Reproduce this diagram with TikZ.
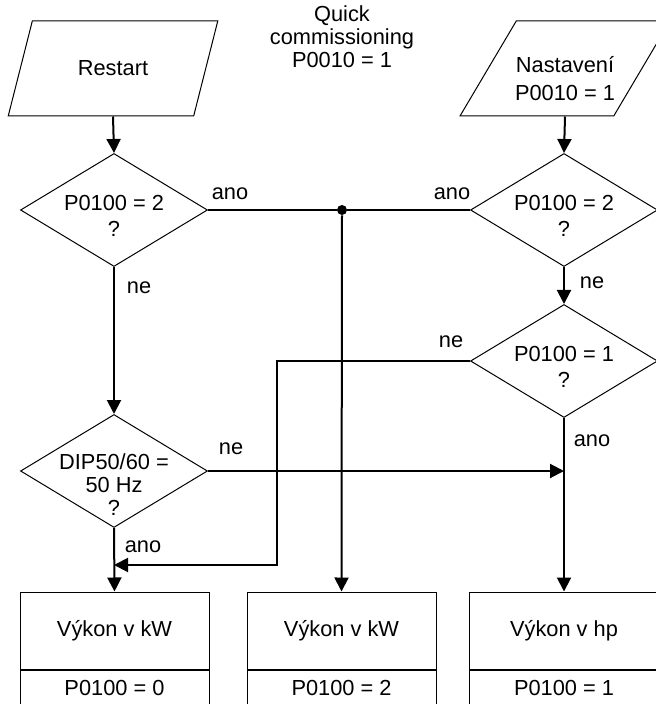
\documentclass[tikz,border=0pt]{standalone}
\usepackage{fontspec}
\setmainfont{Liberation Sans}
\usetikzlibrary{shapes.geometric,arrows.meta,positioning}

\tikzset{
  io/.style={trapezium, trapezium left angle=60, trapezium right angle=120,
    trapezium stretches=true, draw, line width=0.5pt,
    minimum width=105pt, minimum height=47.5pt, inner sep=1pt, align=center},
  decision/.style={diamond, draw, line width=0.5pt,
    minimum width=93.5pt, minimum height=56.5pt, inner sep=0pt},
  dtext/.style={align=center, inner sep=0pt},
  result/.style={rectangle, draw, line width=0.5pt,
    minimum width=94.5pt, minimum height=38.5pt},
  value/.style={rectangle, draw, line width=0.5pt,
    minimum width=94.5pt, minimum height=18pt},
  flow/.style={line width=1pt, -{Triangle[length=7pt,width=7pt]}},
  link/.style={line width=1pt},
  junction/.style={circle, fill, inner sep=0pt, minimum size=5pt},
  lbl/.style={inner sep=0pt},
}

\begin{document}
\begin{tikzpicture}[x=0.5pt, y=-0.5pt, font=\fontsize{10.9}{11.5}\selectfont]
\useasboundingbox (0,0) rectangle (656,704);
\clip (0,0) rectangle (656,704);
% start
\node[io] (restart) at (113,68.5) {Restart};
\node[io, label={[dtext, yshift=-5pt]center:{Nastavení\\[2.5pt]P0010 = 1}}] (nast) at (565,68.5) {};
\node[align=center] (quick) at (342,37) {Quick\\commissioning\\P0010 = 1};
% decisions
\node[decision, label={[dtext, yshift=-3pt]center:{P0100 = 2\\[1.5pt]?}}] (d1) at (114,210) {};
\node[decision, label={[dtext, yshift=-3pt]center:{P0100 = 2\\[1.5pt]?}}] (d2) at (564,210) {};
\node[decision, label={[dtext, yshift=-3pt]center:{P0100 = 1\\[1.5pt]?}}] (d3) at (564,361) {};
\node[decision, label={[dtext, yshift=-7pt]center:{DIP50/60 =\\50 Hz\\?}}] (dip) at (114,471) {};
% results
\node[result] (kw0) at (114.5,630.5) {Výkon v kW};
\node[value, below=0pt of kw0] (p0) {P0100 = 0};
\node[result] (kw2) at (341.5,630.5) {Výkon v kW};
\node[value, below=0pt of kw2] (p2) {P0100 = 2};
\node[result] (hp1) at (564,630.5) {Výkon v hp};
\node[value, below=0pt of hp1] (p1) {P0100 = 1};
% connectors
\node[junction] (j) at (342,210) {};
\coordinate (back) at (277,565);
\coordinate (merge) at (114,565);
\draw[flow] (restart.south) -- (d1.north);
\draw[flow] (nast.south) -- (d2.north);
\draw[link] (d1.east) -- (j) -- (d2.west);
\draw[flow] (j) -- (kw2.north);
\draw[flow] (d1.south) -- (dip.north);
\draw[flow] (d2.south) -- (d3.north);
\draw[flow] (d3.south) -- (hp1.north);
\draw[flow] (dip.east) -- (dip.east -| d3.south);
\draw[flow] (dip.south) -- (kw0.north);
\draw[flow] (d3.west) -| (back) -- (merge);
% labels
\node[lbl] (ano1) at (230,194) {ano};
\node[lbl] (ano2) at (452,194) {ano};
\node[lbl] (ne1) at (139,288) {ne};
\node[lbl] (ne2) at (592,283) {ne};
\node[lbl] (ne3) at (451,342) {ne};
\node[lbl] (ano3) at (592,441) {ano};
\node[lbl] (ne4) at (231,449) {ne};
\node[lbl] (ano4) at (143,547) {ano};
\end{tikzpicture}
\end{document}
